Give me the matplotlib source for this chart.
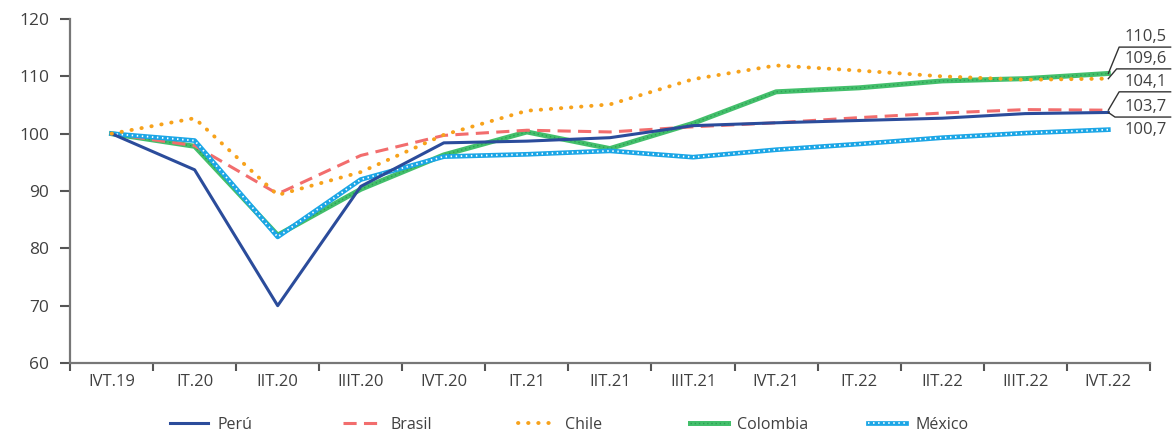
import numpy as np
import matplotlib
matplotlib.use("Agg")
import matplotlib.pyplot as plt
from matplotlib.lines import Line2D
from matplotlib.legend_handler import HandlerTuple

plt.rcParams["font.family"] = ["Open Sans", "DejaVu Sans"]

quarters = ["IVT.19", "IT.20", "IIT.20", "IIIT.20", "IVT.20", "IT.21", "IIT.21",
            "IIIT.21", "IVT.21", "IT.22", "IIT.22", "IIIT.22", "IVT.22"]

peru = [100, 93.7, 70.0, 90.8, 98.4, 98.7, 99.3, 101.4, 101.9, 102.3, 102.7, 103.5, 103.7]
brasil = [100, 97.9, 89.5, 96.2, 99.7, 100.6, 100.3, 101.2, 101.9, 102.8, 103.6, 104.2, 104.1]
chile = [100, 102.7, 89.3, 93.3, 99.8, 104.0, 105.1, 109.5, 111.9, 111.0, 110.0, 109.4, 109.6]
colombia = [100, 97.8, 82.3, 90.3, 96.3, 100.3, 97.4, 101.8, 107.3, 108.0, 109.2, 109.6, 110.5]
mexico = [100, 98.8, 82.0, 92.0, 96.0, 96.4, 97.0, 95.9, 97.2, 98.2, 99.3, 100.1, 100.7]

series_names = ["Perú", "Brasil", "Chile", "Colombia", "México"]
end_labels = ["110,5", "109,6", "104,1", "103,7", "100,7"]

x = np.arange(len(quarters))

fig = plt.figure(figsize=(11.75, 4.36), dpi=100)
ax = fig.add_axes([0.0596, 0.1674, 0.919, 0.789])

# line styles: (base kwargs, optional overlay kwargs)
styles = {
    "Perú": (dict(color="#2B4C9B", lw=2.2), None),
    "Brasil": (dict(color="#F26D6D", lw=2.2, ls=(0, (4.3, 2.4))), None),
    "Chile": (dict(color="#F7A21B", lw=2.8, ls=(0, (0.1, 2.5)), dash_capstyle="round"), None),
    "Colombia": (dict(color="#43BF6B", lw=3.6), dict(color="#2E9E55", lw=1.0, ls=(0, (1, 2)))),
    "México": (dict(color="#1BA6E6", lw=3.4), dict(color="white", lw=1.3, ls=(0, (0.8, 2.0)))),
}
data = {"Perú": peru, "Brasil": brasil, "Chile": chile,
        "Colombia": colombia, "México": mexico}
zorders = {"Perú": 4, "Brasil": 3, "Chile": 5, "Colombia": 2, "México": 3}

handles = []
for name in series_names:
    base, over = styles[name]
    ax.plot(x, data[name], zorder=zorders[name], **base)
    h = Line2D([], [], **base)
    if over is not None:
        ax.plot(x, data[name], zorder=zorders[name], **over)
        h = (h, Line2D([], [], **over))
    handles.append(h)

# one small legend per series along the bottom
leg_x = [170, 343, 518, 690, 868]
for h, name, lx in zip(handles, series_names, leg_x):
    fig.legend([h], [name], handler_map={tuple: HandlerTuple(ndivide=1)},
               loc="center left", bbox_to_anchor=(lx / 1175, 1 - 425 / 436),
               frameon=False, fontsize=11.5, handlelength=2.4, handletextpad=0.55,
               borderpad=0, borderaxespad=0, labelcolor="#404040")

ax.set_xlim(-0.5, 12.5)
ax.set_ylim(60, 120)
ax.set_yticks(np.arange(60, 121, 10))
ax.set_xticks(x)
ax.set_xticklabels(quarters)
ax.set_xticks(np.arange(-0.5, 13, 1), minor=True)
ax.tick_params(axis="x", which="major", length=0, pad=8, labelsize=12, labelcolor="#404040")
ax.tick_params(axis="x", which="minor", length=6, width=1.5, color="#555555", direction="out")
ax.tick_params(axis="y", length=7, width=1.5, color="#555555", pad=8,
               labelsize=12.5, labelcolor="#404040")

for side in ["top", "right"]:
    ax.spines[side].set_visible(False)
for side in ["left", "bottom"]:
    ax.spines[side].set_color("#777777")
    ax.spines[side].set_linewidth(1.6)

# end-of-series value labels with leader lines
last = len(quarters) - 1
ends = [colombia[-1], chile[-1], brasil[-1], peru[-1], mexico[-1]]
shelf_y = [115.1, 111.3, 107.3, 102.9]
shelf_x0 = [12.13, 12.10, 12.13, 12.08]
for val, sy, sx in zip(ends[:4], shelf_y, shelf_x0):
    ax.plot([last, sx, 12.75], [val, sy, sy], color="#333333", lw=1.0,
            clip_on=False, zorder=6)
for lab, sy in zip(end_labels[:4], shelf_y):
    ax.text(12.45, sy + 0.3, lab, ha="center", va="bottom", fontsize=12,
            color="#404040", clip_on=False)
ax.text(12.45, mexico[-1], end_labels[4], ha="center", va="center", fontsize=12,
        color="#404040", clip_on=False)

fig.savefig("out.png", dpi=100)
